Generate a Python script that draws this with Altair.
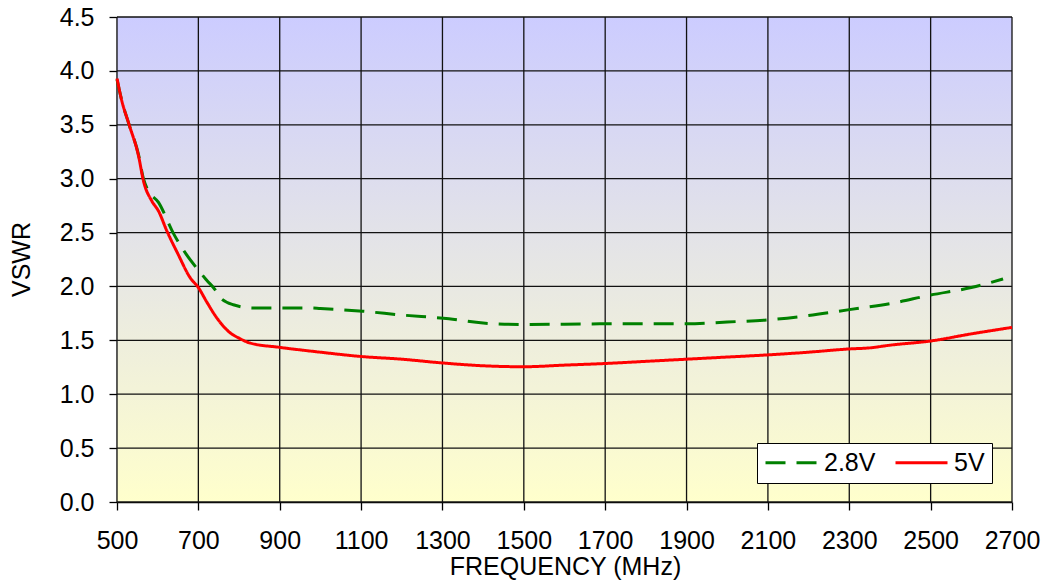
import altair as alt
import pandas as pd

# ---- data ----
freq_28 = [500, 512, 529, 553, 565, 575, 602, 639, 670, 696, 720, 745, 753, 786, 835,
           900, 973, 1000, 1104, 1200, 1316, 1400, 1500, 1600, 1700, 1800, 1900, 2000,
           2100, 2200, 2300, 2400, 2500, 2600, 2678]
vswr_28 = [3.92, 3.72, 3.51, 3.22, 3.00, 2.90, 2.78, 2.49, 2.30, 2.17, 2.06, 1.95, 1.90, 1.83, 1.80,
           1.80, 1.80, 1.795, 1.77, 1.735, 1.70, 1.66, 1.647, 1.65, 1.653, 1.653, 1.653, 1.67,
           1.69, 1.73, 1.785, 1.84, 1.92, 1.99, 2.07]

freq_5 = [500, 512, 529, 553, 565, 586, 602, 622, 650, 680, 700, 720, 745, 778, 800, 827,
          900, 1000, 1100, 1200, 1300, 1400, 1500, 1600, 1700, 1800, 1900, 2000, 2100,
          2200, 2300, 2350, 2400, 2500, 2600, 2700]
vswr_5 = [3.93, 3.72, 3.51, 3.21, 2.98, 2.79, 2.70, 2.52, 2.30, 2.08, 1.99, 1.86, 1.71, 1.57, 1.52, 1.475,
          1.435, 1.39, 1.35, 1.325, 1.29, 1.264, 1.255, 1.27, 1.285, 1.305, 1.325, 1.345, 1.365,
          1.39, 1.42, 1.43, 1.455, 1.494, 1.56, 1.62]

series_names = ["2.8V", "5V"]
series_colors = ["#008000", "#FF0000"]
x_ticks = [500, 700, 900, 1100, 1300, 1500, 1700, 1900, 2100, 2300, 2500, 2700]
y_ticks = [0.0, 0.5, 1.0, 1.5, 2.0, 2.5, 3.0, 3.5, 4.0, 4.5]

lines = pd.concat([
    pd.DataFrame({"freq": freq_28, "vswr": vswr_28, "series": "2.8V"}),
    pd.DataFrame({"freq": freq_5, "vswr": vswr_5, "series": "5V"}),
])
bg = pd.DataFrame({"x": [x_ticks[0]], "x2": [x_ticks[-1]], "y": [y_ticks[0]], "y2": [y_ticks[-1]]})
xgrid = pd.DataFrame({"freq": x_ticks})
ygrid = pd.DataFrame({"vswr": y_ticks})

FONT = "Liberation Sans"
W, H = 895, 485

xs = alt.Scale(domain=[500, 2700], nice=False, zero=False)
ys = alt.Scale(domain=[0, 4.5], nice=False, zero=True)

xaxis = alt.Axis(values=x_ticks, format="d", grid=False, title="FREQUENCY (MHz)",
                 labelFont=FONT, labelFontSize=25, labelColor="black", labelPadding=18,
                 tickSize=8, tickColor="black", tickWidth=1.3,
                 domainColor="black", domainWidth=1.3, labelFlush=False, labelOverlap=False,
                 titleFont=FONT, titleFontSize=25, titleFontWeight="normal", titleColor="black",
                 titleX=448, titleY=72, titleBaseline="alphabetic", titleAlign="center")
yaxis = alt.Axis(values=y_ticks, format=".1f", grid=False, title="VSWR",
                 labelFont=FONT, labelFontSize=25, labelColor="black", labelPadding=15,
                 tickSize=8, tickColor="black", tickWidth=1.3,
                 domainColor="black", domainWidth=1.3, labelFlush=False, labelOverlap=False,
                 titleFont=FONT, titleFontSize=25, titleFontWeight="normal", titleColor="black",
                 titleX=-88, titleY=242, titleAngle=-90, titleBaseline="alphabetic", titleAlign="center")

gradient = alt.Gradient(
    gradient="linear",
    stops=[alt.GradientStop(color="#CCCCFF", offset=0), alt.GradientStop(color="#FFFFCC", offset=1)],
    x1=0, x2=0, y1=0, y2=1,
)

background = alt.Chart(bg).mark_rect(color=gradient).encode(
    x=alt.X("x:Q", scale=xs, axis=xaxis),
    x2="x2:Q",
    y=alt.Y("y:Q", scale=ys, axis=yaxis),
    y2="y2:Q",
)

vgrid = alt.Chart(xgrid).mark_rule(color="#111111", strokeWidth=1.3).encode(
    x=alt.X("freq:Q", scale=xs, axis=xaxis)
)
hgrid = alt.Chart(ygrid).mark_rule(color="#111111", strokeWidth=1.3).encode(
    y=alt.Y("vswr:Q", scale=ys, axis=yaxis)
)

# symbol: small nominal size (keeps the row short) but a long custom path, shifted right
legend = alt.Legend(orient="none", legendX=640, legendY=426, direction="horizontal", title=None,
                    symbolType="M-5.2,0H5.2", symbolSize=100, symbolStrokeWidth=3, symbolOffset=15,
                    labelFont=FONT, labelFontSize=25, labelColor="black", labelOffset=20,
                    columnPadding=13, padding=7, strokeColor="black", fillColor="white")

curves = alt.Chart(lines).mark_line(strokeWidth=3, interpolate="monotone").encode(
    x=alt.X("freq:Q", scale=xs, axis=xaxis),
    y=alt.Y("vswr:Q", scale=ys, axis=yaxis),
    color=alt.Color("series:N", scale=alt.Scale(domain=series_names, range=series_colors), legend=legend),
    strokeDash=alt.StrokeDash("series:N", scale=alt.Scale(domain=series_names, range=[[20, 11], [1, 0]]),
                              legend=legend),
)

chart = alt.layer(background, vgrid, hgrid, curves).properties(
    width=W, height=H,
    autosize=alt.AutoSizeParams(type="none"),
    padding={"left": 109, "top": 9, "right": 30, "bottom": 80},
).configure_view(stroke=None)

chart.save("out.html", embed_options={"renderer": "svg", "actions": False})
